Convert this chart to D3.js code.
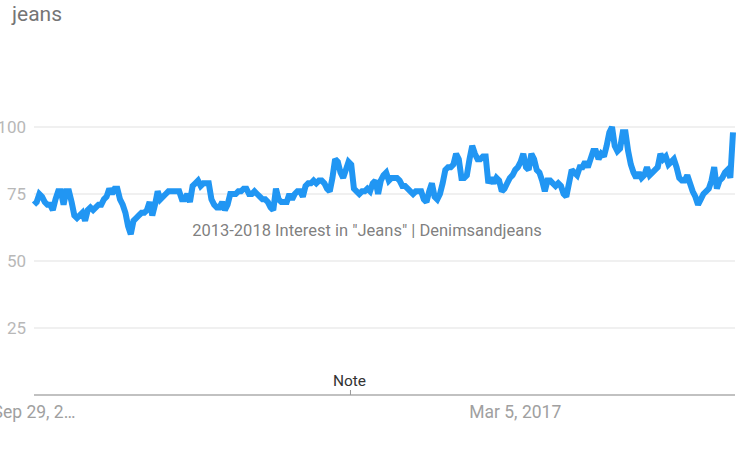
<!DOCTYPE html>
<html>
<head>
<meta charset="utf-8">
<script src="https://cdn.jsdelivr.net/npm/d3@7"></script>
<style>
  html, body { margin: 0; padding: 0; background: #fff; }
  svg { display: block; font-family: Roboto, Arial, sans-serif; }
</style>
</head>
<body>
<svg id="chart" width="740" height="462"></svg>
<script>
// ---- Data ----
const title = "jeans";
const watermark = "2013-2018 Interest in \"Jeans\" | Denimsandjeans";
const startDate = "2013-09-29"; // first weekly point
const values = [
  71,72,75,74,72,71,71,69,73,76, 76,71,76,76,72,67,66,67,68,65,
  69,70,69,70,71,71,73,74,77,75, 77,77,73,71,68,63,60,65,66,67,
  68,68,69,72,67,71,76,73,74,75, 76,76,76,76,76,73,73,75,72,78,
  79,80,78,79,79,79,73,71,70,70, 72,69,71,75,75,75,76,76,77,77,
  75,75,76,75,74,73,73,72,70,69, 77,73,72,72,72,75,73,75,76,76,
  74,78,79,79,80,79,80,80,79,77, 76,81,88,87,83,81,84,87,86,77,
  76,75,76,76,77,76,79,80,75,80, 82,83,80,81,81,81,80,78,78,77,
  76,75,76,76,76,73,72,76,79,74, 73,75,79,84,85,85,86,90,88,81,
  81,82,88,93,90,88,88,89,89,79, 81,79,81,80,76,77,79,81,82,84,
  85,87,90,85,84,90,88,84,83,80, 76,80,80,79,78,79,78,75,74,79,
  84,83,82,85,85,87,85,88,91,91, 88,90,89,93,98,100,93,91,92,98,
  98,91,86,83,81,83,81,82,85,82, 83,84,85,90,88,89,86,87,88,85,
  81,80,80,82,79,76,74,71,73,75, 76,77,80,85,77,80,81,83,84,81,
  98
];
const yTicks = [25, 50, 75, 100];
const xTickDates = ["2013-09-29", "2017-03-05"];
const xTickLabels = ["Sep 29, 2\u2026", "Mar 5, 2017"];
const noteDate = "2016-01-01";
const noteLabel = "Note";

// ---- Build ----
(function () {
const parse = d3.timeParse("%Y-%m-%d");
const t0 = parse(startDate);
const data = values.map((v, i) => ({ date: d3.timeDay.offset(t0, 7 * i), value: v }));

const svg = d3.select("#chart");
const mLeft = 34, mRight = 733, mTop = 127, mBottom = 395;

const x = d3.scaleTime()
  .domain([data[0].date, data[data.length - 1].date])
  .range([mLeft, mRight]);
const y = d3.scaleLinear().domain([0, 100]).range([mBottom, mTop]);

// Title
svg.append("text")
  .attr("x", 12).attr("y", 21)
  .attr("font-size", 21).attr("fill", "#757575")
  .text(title);

// Gridlines
svg.append("g").selectAll("line").data(yTicks).join("line")
  .attr("x1", mLeft).attr("x2", 735)
  .attr("y1", d => y(d)).attr("y2", d => y(d))
  .attr("stroke", "#e2e2e2").attr("stroke-width", 1.2);

// Y labels
svg.append("g").selectAll("text").data(yTicks).join("text")
  .attr("x", 26).attr("y", d => y(d))
  .attr("dy", "0.36em")
  .attr("text-anchor", "end")
  .attr("font-size", 17).attr("fill", "#b8b8b8")
  .text(d => d);

// Baseline axis
svg.append("line")
  .attr("x1", mLeft).attr("x2", 735)
  .attr("y1", mBottom).attr("y2", mBottom)
  .attr("stroke", "#acacac").attr("stroke-width", 1.5);

// X tick labels
svg.append("g").selectAll("text").data(xTickDates).join("text")
  .attr("x", d => x(parse(d)))
  .attr("y", 418)
  .attr("text-anchor", "middle")
  .attr("font-size", 17.5).attr("fill", "#a0a0a0")
  .text((d, i) => xTickLabels[i]);

// Note marker
const nx = x(parse(noteDate));
svg.append("line")
  .attr("x1", nx).attr("x2", nx)
  .attr("y1", mBottom - 5).attr("y2", mBottom)
  .attr("stroke", "#9a9a9a").attr("stroke-width", 1);
svg.append("text")
  .attr("x", nx - 1).attr("y", 386)
  .attr("text-anchor", "middle")
  .attr("font-size", 15.5).attr("fill", "#333")
  .text(noteLabel);

// Line
const line = d3.line().x(d => x(d.date)).y(d => y(d.value));
svg.append("path")
  .datum(data)
  .attr("d", line)
  .attr("fill", "none")
  .attr("stroke", "#2196f3")
  .attr("stroke-width", 6)
  .attr("stroke-linejoin", "miter")
  .attr("stroke-miterlimit", 2);

// Watermark
svg.append("text")
  .attr("x", 367).attr("y", 236)
  .attr("text-anchor", "middle")
  .attr("font-size", 16.5).attr("fill", "#6f6f6f")
  .attr("fill-opacity", 0.9)
  .text(watermark);
})();
</script>
</body>
</html>
